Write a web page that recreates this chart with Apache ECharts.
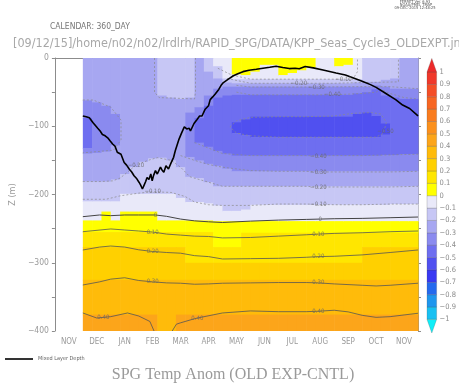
<!DOCTYPE html>
<html><head><meta charset="utf-8">
<script src="https://cdn.jsdelivr.net/npm/echarts@6/dist/echarts.min.js"></script>
<style>html,body{margin:0;padding:0;background:#fff}#c{width:459px;height:383px}</style>
</head><body><div id="c"></div>
<script>
// ---------------- DATA ----------------
const monthLabels = ['NOV','DEC','JAN','FEB','MAR','APR','MAY','JUN','JUL','AUG','SEP','OCT','NOV'];
// time axis in days of a 360-day calendar starting 1 NOV; data columns are 10-day slabs DEC..NOV
const colDays = [30,40,50,60,70,80,90,100,110,120,130,140,150,160,170,180,190,200,210,220,230,240,250,260,270,280,290,300,310,320,330,340,350,360,370,380,390];
// each column: [top depth (m), temperature anomaly of the layer below it]
const profiles = [
 [[0,-0.25],[62,-0.35],[88,-0.45],[132,-0.35],[140,-0.25],[181,-0.15],[210,-0.05],[238,0.05],[255,0.15],[277,0.25],[325,0.35],[376,0.45]],
 [[0,-0.25],[65,-0.35],[139,-0.25],[181,-0.15],[210,-0.05],[238,0.05],[255,0.15],[277,0.25],[325,0.35],[376,0.45]],
 [[0,-0.25],[70,-0.35],[137,-0.25],[181,-0.15],[210,-0.05],[225,0.05],[255,0.15],[277,0.25],[325,0.35],[376,0.45]],
 [[0,-0.25],[82,-0.35],[128,-0.25],[178,-0.15],[210,-0.05],[238,0.05],[255,0.15],[277,0.25],[325,0.35],[376,0.45]],
 [[0,-0.25],[170,-0.15],[199,-0.05],[225,0.05],[255,0.15],[277,0.25],[325,0.35],[376,0.45]],
 [[0,-0.25],[160,-0.15],[199,-0.05],[225,0.05],[255,0.15],[277,0.25],[325,0.35],[376,0.45]],
 [[0,-0.25],[152,-0.15],[199,-0.05],[225,0.05],[255,0.15],[277,0.25],[325,0.35],[376,0.45]],
 [[0,-0.25],[147,-0.15],[199,-0.05],[225,0.05],[255,0.15],[277,0.25],[325,0.35],[376,0.45]],
 [[0,-0.15],[55,-0.25],[146,-0.15],[199,-0.05],[238,0.05],[255,0.15],[277,0.25],[325,0.35]],
 [[0,-0.15],[58,-0.25],[150,-0.15],[199,-0.05],[238,0.05],[255,0.15],[277,0.25],[325,0.35]],
 [[0,-0.15],[60,-0.25],[160,-0.15],[205,-0.05],[238,0.05],[255,0.15],[277,0.25],[325,0.35],[376,0.45]],
 [[0,-0.15],[58,-0.25],[80,-0.35],[145,-0.25],[174,-0.15],[211,-0.05],[238,0.05],[255,0.15],[300,0.25],[325,0.35],[376,0.45]],
 [[0,-0.25],[72,-0.35],[88,-0.45],[124,-0.35],[150,-0.25],[176,-0.15],[211,-0.05],[238,0.05],[255,0.15],[300,0.25],[325,0.35],[376,0.45]],
 [[0,-0.15],[20,-0.25],[55,-0.35],[70,-0.45],[130,-0.35],[155,-0.25],[182,-0.15],[213,-0.05],[238,0.05],[255,0.15],[300,0.25],[325,0.35],[376,0.45]],
 [[0,-0.05],[12,-0.15],[30,-0.25],[45,-0.35],[58,-0.45],[136,-0.35],[158,-0.25],[188,-0.15],[216,-0.05],[239,0.05],[277,0.15],[300,0.25],[325,0.35],[376,0.45]],
 [[0,-0.05],[30,-0.15],[36,-0.25],[42,-0.35],[55,-0.45],[140,-0.35],[162,-0.25],[188,-0.15],[224,-0.05],[239,0.05],[277,0.15],[300,0.25],[325,0.35],[376,0.45]],
 [[0,0.05],[24,-0.05],[31,-0.15],[37,-0.25],[42,-0.35],[54,-0.45],[94,-0.55],[110,-0.45],[143,-0.35],[166,-0.25],[188,-0.15],[224,-0.05],[239,0.05],[277,0.15],[300,0.25],[325,0.35],[376,0.45]],
 [[0,0.05],[25,-0.05],[31,-0.15],[37,-0.25],[42,-0.35],[54,-0.45],[90,-0.55],[113,-0.45],[143,-0.35],[166,-0.25],[188,-0.15],[222,-0.05],[239,0.05],[256,0.15],[300,0.25],[325,0.35],[376,0.45]],
 [[0,0.05],[20,-0.05],[31,-0.15],[37,-0.25],[42,-0.35],[54,-0.45],[86,-0.55],[116,-0.45],[143,-0.35],[166,-0.25],[188,-0.15],[215,-0.05],[239,0.05],[256,0.15],[300,0.25],[325,0.35],[376,0.45]],
 [[0,0.05],[10,-0.05],[31,-0.15],[37,-0.25],[42,-0.35],[54,-0.45],[86,-0.55],[116,-0.45],[143,-0.35],[166,-0.25],[188,-0.15],[215,-0.05],[239,0.05],[256,0.15],[300,0.25],[325,0.35],[376,0.45]],
 [[0,0.05],[10,-0.05],[31,-0.15],[37,-0.25],[42,-0.35],[54,-0.45],[86,-0.55],[116,-0.45],[143,-0.35],[166,-0.25],[188,-0.15],[215,-0.05],[239,0.05],[256,0.15],[300,0.25],[325,0.35],[376,0.45]],
 [[0,0.05],[25,-0.05],[31,-0.15],[37,-0.25],[42,-0.35],[54,-0.45],[86,-0.55],[116,-0.45],[143,-0.35],[166,-0.25],[188,-0.15],[215,-0.05],[239,0.05],[256,0.15],[300,0.25],[325,0.35],[376,0.45]],
 [[0,0.05],[22,-0.05],[31,-0.15],[37,-0.25],[42,-0.35],[54,-0.45],[86,-0.55],[116,-0.45],[143,-0.35],[166,-0.25],[188,-0.15],[215,-0.05],[239,0.05],[256,0.15],[300,0.25],[325,0.35],[376,0.45]],
 [[0,0.05],[18,-0.05],[31,-0.15],[37,-0.25],[42,-0.35],[54,-0.45],[86,-0.55],[116,-0.45],[143,-0.35],[166,-0.25],[188,-0.15],[215,-0.05],[239,0.05],[256,0.15],[300,0.25],[325,0.35],[376,0.45]],
 [[0,0.05],[14,-0.05],[31,-0.15],[37,-0.25],[42,-0.35],[54,-0.45],[86,-0.55],[116,-0.45],[143,-0.35],[166,-0.25],[188,-0.15],[215,-0.05],[239,0.05],[256,0.15],[300,0.25],[325,0.35],[376,0.45]],
 [[0,-0.05],[31,-0.15],[37,-0.25],[42,-0.35],[54,-0.45],[86,-0.55],[116,-0.45],[143,-0.35],[166,-0.25],[188,-0.15],[215,-0.05],[239,0.05],[256,0.15],[300,0.25],[325,0.35],[376,0.45]],
 [[0,-0.05],[31,-0.15],[37,-0.25],[42,-0.35],[54,-0.45],[86,-0.55],[116,-0.45],[143,-0.35],[166,-0.25],[188,-0.15],[215,-0.05],[239,0.05],[256,0.15],[300,0.25],[325,0.35],[376,0.45]],
 [[0,0.05],[12,-0.05],[31,-0.15],[37,-0.25],[42,-0.35],[54,-0.45],[86,-0.55],[116,-0.45],[143,-0.35],[166,-0.25],[188,-0.15],[215,-0.05],[239,0.05],[256,0.15],[300,0.25],[325,0.35],[376,0.45]],
 [[0,0.05],[10,-0.05],[31,-0.15],[37,-0.25],[42,-0.35],[54,-0.45],[86,-0.55],[116,-0.45],[143,-0.35],[166,-0.25],[188,-0.15],[215,-0.05],[239,0.05],[256,0.15],[300,0.25],[325,0.35],[376,0.45]],
 [[0,-0.05],[31,-0.15],[36,-0.25],[42,-0.35],[52,-0.45],[82,-0.55],[116,-0.45],[143,-0.35],[166,-0.25],[188,-0.15],[215,-0.05],[239,0.05],[256,0.15],[300,0.25],[325,0.35],[376,0.45]],
 [[0,-0.15],[35,-0.25],[42,-0.35],[50,-0.45],[80,-0.55],[116,-0.45],[143,-0.35],[166,-0.25],[188,-0.15],[215,-0.05],[239,0.05],[256,0.15],[277,0.25],[325,0.35],[376,0.45]],
 [[0,-0.15],[35,-0.25],[40,-0.35],[46,-0.45],[85,-0.55],[116,-0.45],[143,-0.35],[166,-0.25],[188,-0.15],[215,-0.05],[239,0.05],[256,0.15],[277,0.25],[325,0.35],[376,0.45]],
 [[0,-0.15],[32,-0.25],[42,-0.35],[55,-0.45],[96,-0.55],[112,-0.45],[142,-0.35],[166,-0.25],[188,-0.15],[215,-0.05],[239,0.05],[256,0.15],[277,0.25],[325,0.35],[376,0.45]],
 [[0,-0.15],[30,-0.25],[45,-0.35],[58,-0.45],[142,-0.35],[166,-0.25],[188,-0.15],[214,-0.05],[239,0.05],[256,0.15],[277,0.25],[325,0.35],[376,0.45]],
 [[0,-0.25],[45,-0.35],[60,-0.45],[141,-0.35],[166,-0.25],[188,-0.15],[214,-0.05],[239,0.05],[256,0.15],[277,0.25],[325,0.35],[376,0.45]],
 [[0,-0.25],[45,-0.35],[60,-0.45],[141,-0.35],[166,-0.25],[188,-0.15],[214,-0.05],[239,0.05],[256,0.15],[277,0.25],[325,0.35],[376,0.45]]
];
// mixed layer depth: [day, depth m]
const mldPoints = [[30,85],[33.6,86],[37,87.5],[41,95],[43.5,99],[46,103],[48.6,107],[51,112],[54,114],[56.7,117],[59,121],[62,126],[64.5,129],[67,138],[71,141],[74.4,153],[77,157],[80,163],[82.5,167],[85,172.5],[88,177],[90.3,182],[92,186],[94,192],[95.6,187],[97.5,181],[99,175],[101,178],[103,170],[104.5,180],[106,172],[108,165],[110,170],[111.6,172.5],[113.4,160],[115,164],[117,167.5],[119.3,158],[122,162.6],[125,153],[127.5,145.5],[129.3,136],[133,120],[136,110],[139,101],[141.6,104],[144.3,103],[145.6,107],[149.4,96],[151,97],[152.7,90],[155.4,85],[158,85],[161.4,75],[165,70],[166.8,61],[169.5,57],[172,53],[176,46],[178.5,40],[181,36],[186.3,31],[191.7,26],[196.5,23],[202,20],[208.5,18],[216.3,16.6],[223.5,15],[230.7,13.5],[237.6,12],[244.8,14],[251.7,15.5],[258,15],[262.5,15.7],[268.8,12.5],[277.5,14.5],[288,17.6],[302,22],[312,25],[320,29],[330,34],[339,39],[345,43],[355.5,52],[366,61],[373.5,69],[381,74],[388.5,83],[390,85]];
// contour lines [day, depth]
const cont0 = [[30,232.5],[48,230],[60,231],[75,230],[90,230],[108,230],[120,232],[135,236],[150,238.6],[165,240],[180,241],[210,239],[240,237.5],[270,236.5],[285,236],[300,235.5],[330,235],[360,234],[390,233]];
const cont10 = [[30,254.5],[60,250.5],[75,252],[90,253.5],[105,255],[120,258],[135,259.5],[150,261],[165,261.5],[180,263.6],[210,263],[240,261],[270,259],[283,258],[300,257],[330,256],[360,254.5],[390,253.5]];
const cont20 = [[30,281.3],[48,277],[60,275.5],[75,277],[90,281],[105,283.5],[120,285],[135,286],[150,289.6],[165,291],[180,294.5],[210,294],[240,293.5],[270,292],[283,291],[300,290.5],[330,288.5],[360,285],[390,281.3]];
const cont30 = [[30,332.6],[48,328],[60,324],[75,322],[90,326],[105,328],[120,329.5],[135,330],[150,331.5],[165,331],[180,330],[210,329.5],[240,329],[270,329],[283,329.5],[300,331],[330,333],[345,334],[360,333],[390,330]];
const cont40a = [[30,373.6],[45,381],[52,380],[60,379],[78,373.6],[90,378],[102,386],[106.5,400]];
const cont40b = [[126,400],[130.5,390],[135,388],[150,382],[153,381],[180,373.6],[210,370.6],[240,371.7],[270,371.7],[283,371],[300,369.6],[315,372],[330,377],[345,380],[360,379],[390,374]];
const neg10 = [[30,207],[55,207],[70,202],[90,198],[105,196],[125,197],[140,203],[150,211],[165,215],[180,216],[210,216],[240,214],[270,214],[283,214.5],[300,215],[330,215],[360,214],[390,214]];
const neg20 = [[30,181],[50,181],[62,180],[70,176],[80,165],[87,157],[100,150],[110,146],[125,150],[135,160],[145,174],[155,178],[165,182],[180,188],[210,188],[240,188],[270,188],[283,189],[300,189],[330,189],[360,189],[390,188]];
const neg30 = [[135,143],[150,150],[165,156],[180,160],[210,165],[240,166],[270,166],[283,167],[300,167],[330,167],[360,167],[390,166]];
const neg30dec = [[30,61.5],[41,61.5],[60,72],[71,91],[71,120],[63,135],[30,139]];
const neg20top = [[107,0],[107,50],[112,58],[150,60],[151,50],[151,0]];
const neg40 = [[150,124],[165,132],[180,140],[210,143],[240,143],[270,143],[283,143.6],[300,143],[330,143],[360,142],[390,141]];
const neg50 = [[188,101],[195,92],[210,87],[240,86],[270,86],[300,85],[320,81],[340,80],[350,82],[356,94],[353,110],[345,116],[320,116],[280,116],[240,116],[210,114],[195,110],[188,101]];
const negU10 = [[175,15],[190,25],[210,31],[240,31],[270,31],[300,31],[310,31],[320,31],[325,20],[325,0]];
const negU20 = [[185,30],[210,37],[240,37],[262,37],[300,37],[330,36],[369,35],[369,0]];
const negU30 = [[195,40],[210,42.5],[240,42.5],[281,42.5],[330,42],[360,42],[390,45]];
const negU40 = [[195,50],[210,54],[240,54],[298,54],[330,52],[345,50],[350,46],[360,52],[375,58],[390,60]];
const contourLabels = [[285,236,'0'],[108,230,'0'],[283,258,'0.10'],[105,255,'0.10'],[283,291,'0.20'],[105,283.5,'0.20'],[283,329.5,'0.30'],[105,328,'0.30'],[283,371,'0.40'],[52,380,'0.40'],[153,381,'0.40'],
 [283,214.5,'-0.10'],[283,189,'-0.20'],[283,167,'-0.30'],[283,143.6,'-0.40'],[355,108,'-0.50'],
 [310,31,'-0.10'],[262,37,'-0.20'],[281,42.5,'-0.30'],[298,54,'-0.40'],[87,157,'-0.20'],[105,196,'-0.10']];
// colour scale
const cbBounds = [-1,-0.9,-0.8,-0.7,-0.6,-0.5,-0.4,-0.3,-0.2,-0.1,0,0.1,0.2,0.3,0.4,0.5,0.6,0.7,0.8,0.9,1];
const palette = ['#10eef8','#18c0f2','#1e96ee','#2469ee','#3838f2','#5050f0','#6e6ef0','#8a8aef','#a7a7f1','#c7c7f5','#e9e9f9',
                 '#ffff00','#ffe600','#ffd000','#ffbb0a','#fca51a','#fb901c','#f97c1e','#f76622','#f44e26','#f0382a','#ec2a2a'];

// ---------------- CHART ----------------
const ff = "'Liberation Sans Narrow','DejaVu Sans Condensed','Liberation Sans',sans-serif";
function bandIndex(v){
  if (v < cbBounds[0]) return 0;
  for (let i=0;i<cbBounds.length-1;i++) if (v < cbBounds[i+1]) return i+1;
  return palette.length-1;
}
const cells = [];
profiles.forEach((prof,j)=>{
  for (let k=0;k<prof.length;k++){
    const top = prof[k][0], bot = k+1<prof.length ? prof[k+1][0] : 400;
    cells.push([colDays[j], colDays[j+1], -top, -bot, prof[k][1]]);
  }
});
const neg = a => a.map(p=>[p[0],-p[1]]);
const cbData = [];
for (let i=0;i<cbBounds.length-1;i++) cbData.push([cbBounds[i], cbBounds[i+1], i+1, 0]);
cbData.push([-1, -1.11, 0, 1]);
cbData.push([1, 1.11, palette.length-1, 1]);

const solid = {color:'#555', width:0.8, type:'solid'};
const dash = {color:'#8a8a8a', width:0.7, type:[2,2]};
function cline(data, ls, name){
  return {type:'line', name:name||'', xAxisIndex:0, yAxisIndex:0, data:neg(data), showSymbol:false, symbol:'none',
          lineStyle:ls, z:3, silent:true, animation:false};
}
const chart = echarts.init(document.getElementById('c'), null, {renderer:'canvas'});
const grey = '#8c8c8c';
const option = {
  animation:false,
  backgroundColor:'#fff',
  grid:[{left:51, top:58, width:367, height:273},{left:427, top:72, width:12, height:247.4}],
  xAxis:[
    {type:'value', gridIndex:0, min:0, max:390, show:false},
    {type:'category', gridIndex:0, position:'bottom', data:monthLabels, boundaryGap:true,
      axisLine:{lineStyle:{color:grey, width:1}}, axisTick:{length:3, lineStyle:{color:grey}},
      axisLabel:{color:'#9a9a9a', fontSize:8, margin:7, fontFamily:ff}, splitLine:{show:false}},
    {type:'category', gridIndex:0, position:'top', data:monthLabels, boundaryGap:true,
      axisLine:{lineStyle:{color:grey, width:1}}, axisTick:{length:3, lineStyle:{color:grey}},
      axisLabel:{show:false}, splitLine:{show:false}},
    {type:'category', gridIndex:0, position:'bottom', data:monthLabels, boundaryGap:true,
      axisLine:{show:false}, axisTick:{length:6, interval:(i)=>i===2, lineStyle:{color:grey}},
      axisLabel:{show:false}},
    {type:'category', gridIndex:0, position:'top', data:monthLabels, boundaryGap:true,
      axisLine:{show:false}, axisTick:{length:8, interval:(i)=>i===2, lineStyle:{color:grey}},
      axisLabel:{show:false}},
    {type:'value', gridIndex:1, min:0, max:1, show:false}
  ],
  yAxis:[
    {type:'value', gridIndex:0, min:-400, max:0, interval:100, position:'left',
      axisLine:{show:true, lineStyle:{color:grey}}, axisTick:{show:true, length:3, lineStyle:{color:grey}},
      minorTick:{show:true, splitNumber:2, length:3, lineStyle:{color:grey}},
      splitLine:{show:false},
      axisLabel:{color:'#9a9a9a', fontSize:8.5, margin:6, fontFamily:ff, formatter:v=> v===0?'0':'\u2212'+Math.abs(v)},
      name:'Z (m)', nameLocation:'middle', nameGap:30, nameRotate:90,
      nameTextStyle:{color:'#9a9a9a', fontSize:9, fontFamily:ff}},
    {type:'value', gridIndex:0, min:-400, max:0, interval:100, position:'right',
      axisLine:{show:true, lineStyle:{color:grey}}, axisTick:{show:true, length:3, lineStyle:{color:grey}},
      minorTick:{show:true, splitNumber:2, length:3, lineStyle:{color:grey}},
      splitLine:{show:false}, axisLabel:{show:false}},
    {type:'value', gridIndex:1, min:-1, max:1, interval:0.1, position:'right',
      axisLine:{show:false}, axisTick:{show:false}, splitLine:{show:false},
      axisLabel:{color:'#8c8c8c', fontSize:7.5, margin:3, fontFamily:ff,
        formatter:v=>{ if (Math.abs(v)<1e-9) return '0'; let s=Math.abs(v).toFixed(1); if (s==='1.0') s='1'; return (v<0?'\u2212':'')+s; }}}
  ],
  legend:{data:[{name:'Mixed Layer Depth', icon:'rect'}], left:0, top:351, itemWidth:28, itemHeight:1.6,
    selectedMode:false, textStyle:{fontSize:5.5, color:'#666', fontFamily:ff}, itemGap:5},
  graphic:[
    {type:'text', style:{x:415, y:2.2, text:'FERRET Ver. 6.93', font:'4px '+ff, fill:'#555', textAlign:'center', textVerticalAlign:'middle'}},
    {type:'text', style:{x:416, y:5, text:'NOAA/PMEL TMAP', font:'4px '+ff, fill:'#555', textAlign:'center', textVerticalAlign:'middle'}},
    {type:'text', style:{x:415, y:7.8, text:'09-DEC-2015 12:48:25', font:'4px '+ff, fill:'#555', textAlign:'center', textVerticalAlign:'middle'}},
    {type:'text', style:{x:50, y:27, text:'CALENDAR: 360_DAY', font:'8.5px '+ff, fill:'#777', textVerticalAlign:'middle'}},
    {type:'text', style:{x:13, y:43.5, text:'[09/12/15]/home/n02/n02/lrdlrh/RAPID_SPG/DATA/KPP_Seas_Cycle3_OLDEXPT.jnl', font:'12.5px '+ff, fill:'#a8a8a8', textVerticalAlign:'middle'}},
    {type:'text', style:{x:233, y:375, text:'SPG Temp Anom (OLD EXP-CNTL)', font:'16px \'Liberation Serif\',serif', fill:'#9a9a9a', textAlign:'center', textVerticalAlign:'middle'}}
  ],
  series:[
    {type:'custom', xAxisIndex:0, yAxisIndex:0, data:cells, clip:true, z:1, silent:true,
      encode:{x:[0,1], y:[2,3]},
      renderItem:(params, api)=>{
        const a = api.coord([api.value(0), api.value(2)]);
        const b = api.coord([api.value(1), api.value(3)]);
        return {type:'rect', shape:{x:a[0], y:a[1], width:b[0]-a[0]+0.6, height:b[1]-a[1]+0.6},
                style:{fill:palette[bandIndex(api.value(4))]}};
      }},
    cline(cont0, {color:'#444', width:1, type:'solid'}), cline(cont10, solid), cline(cont20, solid), cline(cont30, solid),
    cline(cont40a, solid), cline(cont40b, solid),
    cline(neg10, dash), cline(neg20, dash), cline(neg30, dash), cline(neg30dec, dash), cline(neg20top, dash),
    cline(neg40, dash), cline(neg50, dash),
    cline(negU10, dash), cline(negU20, dash), cline(negU30, dash), cline(negU40, dash),
    {type:'line', name:'Mixed Layer Depth', xAxisIndex:0, yAxisIndex:0, data:neg(mldPoints), showSymbol:false, symbol:'none',
      lineStyle:{color:'#000', width:1.6}, itemStyle:{color:'#000'}, z:5, silent:true},
    {type:'scatter', xAxisIndex:0, yAxisIndex:0, data:contourLabels.map(p=>[p[0],-p[1],p[2]]), symbolSize:1,
      itemStyle:{color:'rgba(0,0,0,0)'}, z:6, silent:true,
      label:{show:true, position:'inside', formatter:p=>p.value[2].replace('-','\u2212'), fontSize:6, color:'#666', fontFamily:ff}},
    {type:'custom', xAxisIndex:5, yAxisIndex:2, data:cbData, clip:false, z:2, silent:true,
      encode:{x:3, y:[0,1]},
      renderItem:(params, api)=>{
        const lo = api.value(0), hi = api.value(1), tri = api.value(3);
        const fill = palette[api.value(2)];
        if (!tri){
          const a = api.coord([0, hi]); const b = api.coord([1, lo]);
          return {type:'rect', shape:{x:a[0], y:a[1], width:b[0]-a[0], height:b[1]-a[1]},
                  style:{fill:fill, stroke:'rgba(70,70,70,0.45)', lineWidth:0.5}};
        }
        const l = api.coord([0, lo]), r = api.coord([1, lo]), apex = api.coord([0.5, hi]);
        return {type:'polygon', shape:{points:[l, r, apex]}, style:{fill:fill, stroke:'rgba(70,70,70,0.45)', lineWidth:0.5}};
      }}
  ]
};
chart.setOption(option);
</script></body></html>
